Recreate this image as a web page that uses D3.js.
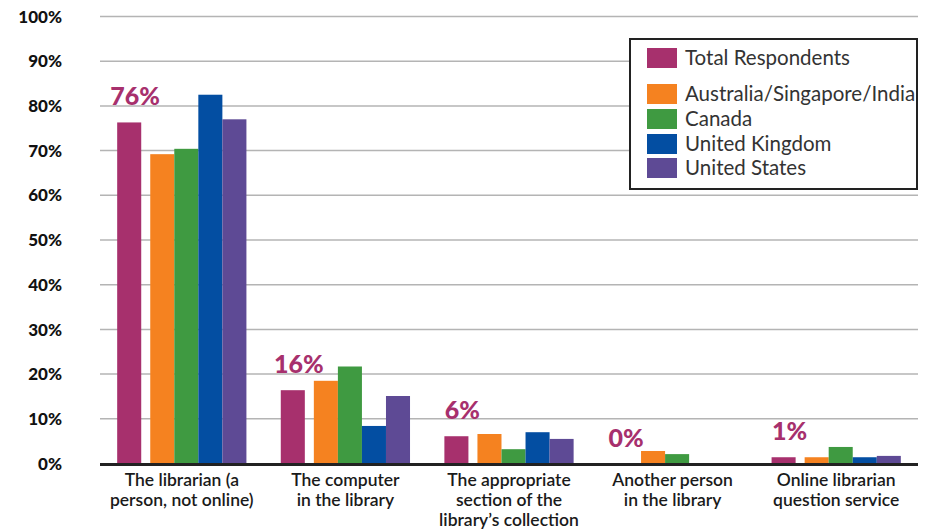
<!DOCTYPE html>
<html><head><meta charset="utf-8">
<script src="https://cdn.jsdelivr.net/npm/d3@7/dist/d3.min.js"></script>
<style>
html,body{margin:0;padding:0;background:#fff;}
svg{display:block;}
</style></head>
<body>
<svg id="chart" width="928" height="529"></svg>
<script>
const categories = [
  ["The librarian (a", "person, not online)"],
  ["The computer", "in the library"],
  ["The appropriate", "section of the", "library\u2019s collection"],
  ["Another person", "in the library"],
  ["Online librarian", "question service"]
];
const seriesNames = ["Total Respondents", "Australia/Singapore/India", "Canada", "United Kingdom", "United States"];
const totalRespondents = [76.3, 16.4, 6.1, 0, 1.4];
const australiaSingaporeIndia = [69.2, 18.5, 6.6, 2.8, 1.4];
const canada = [70.4, 21.7, 3.2, 2.1, 3.7];
const unitedKingdom = [82.5, 8.4, 7.0, 0, 1.4];
const unitedStates = [77.0, 15.1, 5.5, 0, 1.7];
const totalLabels = ["76%", "16%", "6%", "0%", "1%"];
const yTicks = [0, 10, 20, 30, 40, 50, 60, 70, 80, 90, 100];
const colors = ["#A7306D", "#F58220", "#3F9A41", "#034EA2", "#5E4A95"];

const series = [totalRespondents, australiaSingaporeIndia, canada, unitedKingdom, unitedStates];

const svg = d3.select("#chart");
const plotLeft = 100, plotRight = 918, plotTop = 16.5, plotBottom = 463.5;

const y = d3.scaleLinear().domain([0, 100]).range([plotBottom, plotTop]);
const x = d3.scaleBand().domain(d3.range(categories.length)).range([plotLeft, plotRight])
  .paddingInner(0.21).paddingOuter(0.105);

const bw = x.bandwidth();
const gap = bw * 9 / 129;
const barW = (bw - gap) / 5;
const sub = i => i === 0 ? 0 : gap + i * barW;

// grid
svg.append("g").selectAll("line").data(yTicks.filter(t => t > 0)).join("line")
  .attr("x1", plotLeft).attr("x2", plotRight)
  .attr("y1", d => y(d)).attr("y2", d => y(d))
  .attr("stroke", "#b4b4b4").attr("stroke-width", 1.5);

// y tick labels
svg.append("g").selectAll("text").data(yTicks).join("text")
  .attr("x", 62).attr("y", d => y(d))
  .attr("dy", "0.36em")
  .attr("text-anchor", "end")
  .attr("font-family", "Lato, 'Open Sans', sans-serif")
  .attr("font-weight", "900")
  .attr("font-size", 17)
  .attr("fill", "#111")
  .text(d => d + "%");

// bars
series.forEach((vals, si) => {
  svg.append("g").selectAll("rect").data(vals).join("rect")
    .attr("x", (d, i) => x(i) + sub(si))
    .attr("width", barW)
    .attr("y", d => y(d))
    .attr("height", d => y(0) - y(d))
    .attr("fill", colors[si]);
});

// baseline
svg.append("line").attr("x1", plotLeft).attr("x2", plotRight)
  .attr("y1", y(0) + 1).attr("y2", y(0) + 1)
  .attr("stroke", "#222").attr("stroke-width", 3);

// total labels
svg.append("g").selectAll("text").data(totalLabels).join("text")
  .attr("x", (d, i) => x(i) + barW / 2 + 6)
  .attr("y", (d, i) => y(totalRespondents[i]) - 17)
  .attr("text-anchor", "middle")
  .attr("font-family", "Lato, 'Open Sans', sans-serif")
  .attr("font-weight", "900")
  .attr("font-size", 25)
  .attr("fill", "#A7306D")
  .text(d => d);

// category labels
const cg = svg.append("g").selectAll("text").data(categories).join("text")
  .attr("x", (d, i) => x(i) + bw / 2)
  .attr("y", 486)
  .attr("text-anchor", "middle")
  .attr("font-family", "Lato, 'Open Sans', sans-serif")
  .attr("font-weight", "600")
  .attr("font-size", 17.5)
  .attr("fill", "#1a1a1a");
cg.selectAll("tspan").data(d => d).join("tspan")
  .attr("x", function() { return d3.select(this.parentNode).attr("x"); })
  .attr("dy", (d, i) => i === 0 ? 0 : 20)
  .text(d => d);

// legend
const lg = svg.append("g");
lg.append("rect").attr("x", 630).attr("y", 39).attr("width", 287).attr("height", 150)
  .attr("fill", "#fff").attr("stroke", "#222").attr("stroke-width", 2);
const legendY = [58, 94, 119, 144, 168];
seriesNames.forEach((name, i) => {
  lg.append("rect").attr("x", 647).attr("y", legendY[i] - 10).attr("width", 30).attr("height", 20)
    .attr("fill", colors[i]);
  lg.append("text").attr("x", 685).attr("y", legendY[i]).attr("dy", "0.35em")
    .attr("font-family", "Lato, 'Open Sans', sans-serif")
    .attr("font-size", 20.5).attr("fill", "#333")
    .text(name);
});
</script>
</body></html>
